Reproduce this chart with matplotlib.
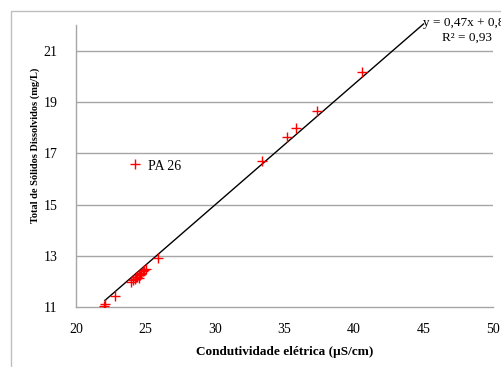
import numpy as np
import matplotlib
matplotlib.use("Agg")
import matplotlib.pyplot as plt
from matplotlib.patches import Rectangle

# Data
cond = [22.05, 22.1, 22.8, 23.95, 24.1, 24.25, 24.35, 24.4, 24.5, 24.55, 24.6,
        24.65, 24.7, 24.8, 24.9, 25.0, 25.9, 33.35, 35.15, 35.86, 37.37, 40.6,
        24.24]
tds = [11.05, 11.12, 11.45, 11.98, 12.05, 12.1, 12.2, 12.2, 12.25, 12.15, 12.25,
       12.3, 12.35, 12.4, 12.45, 12.5, 12.92, 16.69, 17.62, 18.0, 18.64, 20.17,
       16.57]
outlier_label = "PA 26"
x_ticks = [20, 25, 30, 35, 40, 45, 50]
y_ticks = [11, 13, 15, 17, 19, 21]
# trendline as printed on the chart (y = 0,47x + 0,8...)
trend_slope = 0.47
trend_intercept = 0.89
trend_x = [22.08, 45.0]
eq_text = "y = 0,47x + 0,8"
r2_text = "R² = 0,93"

plt.rcParams['font.family'] = ['Liberation Serif', 'DejaVu Serif']

fig = plt.figure(figsize=(5.02, 3.67), dpi=100)
W, H = 502, 367
ax = fig.add_axes([76 / W, 1 - 307.3 / H, (493 - 76) / W, (307.3 - 25) / H])

# outer chart frame
fig.patches.append(Rectangle((11 / W, -0.1), 1.2, 1 - 11 / H + 0.1,
                             transform=fig.transFigure, fill=False,
                             edgecolor='#bfbfbf', lw=1.0))

for yv in y_ticks[1:]:
    ax.axhline(yv, color='#a6a6a6', lw=1.0, zorder=0)

ax.plot(cond, tds, linestyle='none', marker='+', color='red', ms=7, mew=1.0, zorder=3)

xl = np.array(trend_x)
ax.plot(xl, trend_slope * xl + trend_intercept, color='black', lw=1.0,
        zorder=2, clip_on=False)

ax.set_xlim(20, 50)
ax.set_ylim(11, 22)
ax.set_xticks(x_ticks)
ax.set_yticks(y_ticks)
ax.tick_params(length=0, labelsize=10)
ax.tick_params(axis='y', pad=13.5)
ax.tick_params(axis='x', pad=11.5)
for s in ['top', 'right']:
    ax.spines[s].set_visible(False)
for s in ['left', 'bottom']:
    ax.spines[s].set_color('#a6a6a6')
    ax.spines[s].set_linewidth(1.0)

fig.text(285 / W, 1 - 352 / H, "Condutividade elétrica (µS/cm)", ha='center',
         va='center', fontsize=9.5, fontweight='bold')
fig.text(35 / W, 1 - 145 / H, "Total de Sólidos Dissolvidos (mg/L)", ha='center',
         va='center', rotation=90, fontsize=7.5, fontweight='bold')

ax.text(148 / W, 1 - 166 / H, outlier_label, transform=fig.transFigure,
        ha='left', va='center', fontsize=10)
fig.text(423 / W, 1 - 23 / H, eq_text, ha='left', va='center', fontsize=9.5)
fig.text(442 / W, 1 - 38 / H, r2_text, ha='left', va='center', fontsize=9.5)

fig.savefig("out.png", dpi=100)
